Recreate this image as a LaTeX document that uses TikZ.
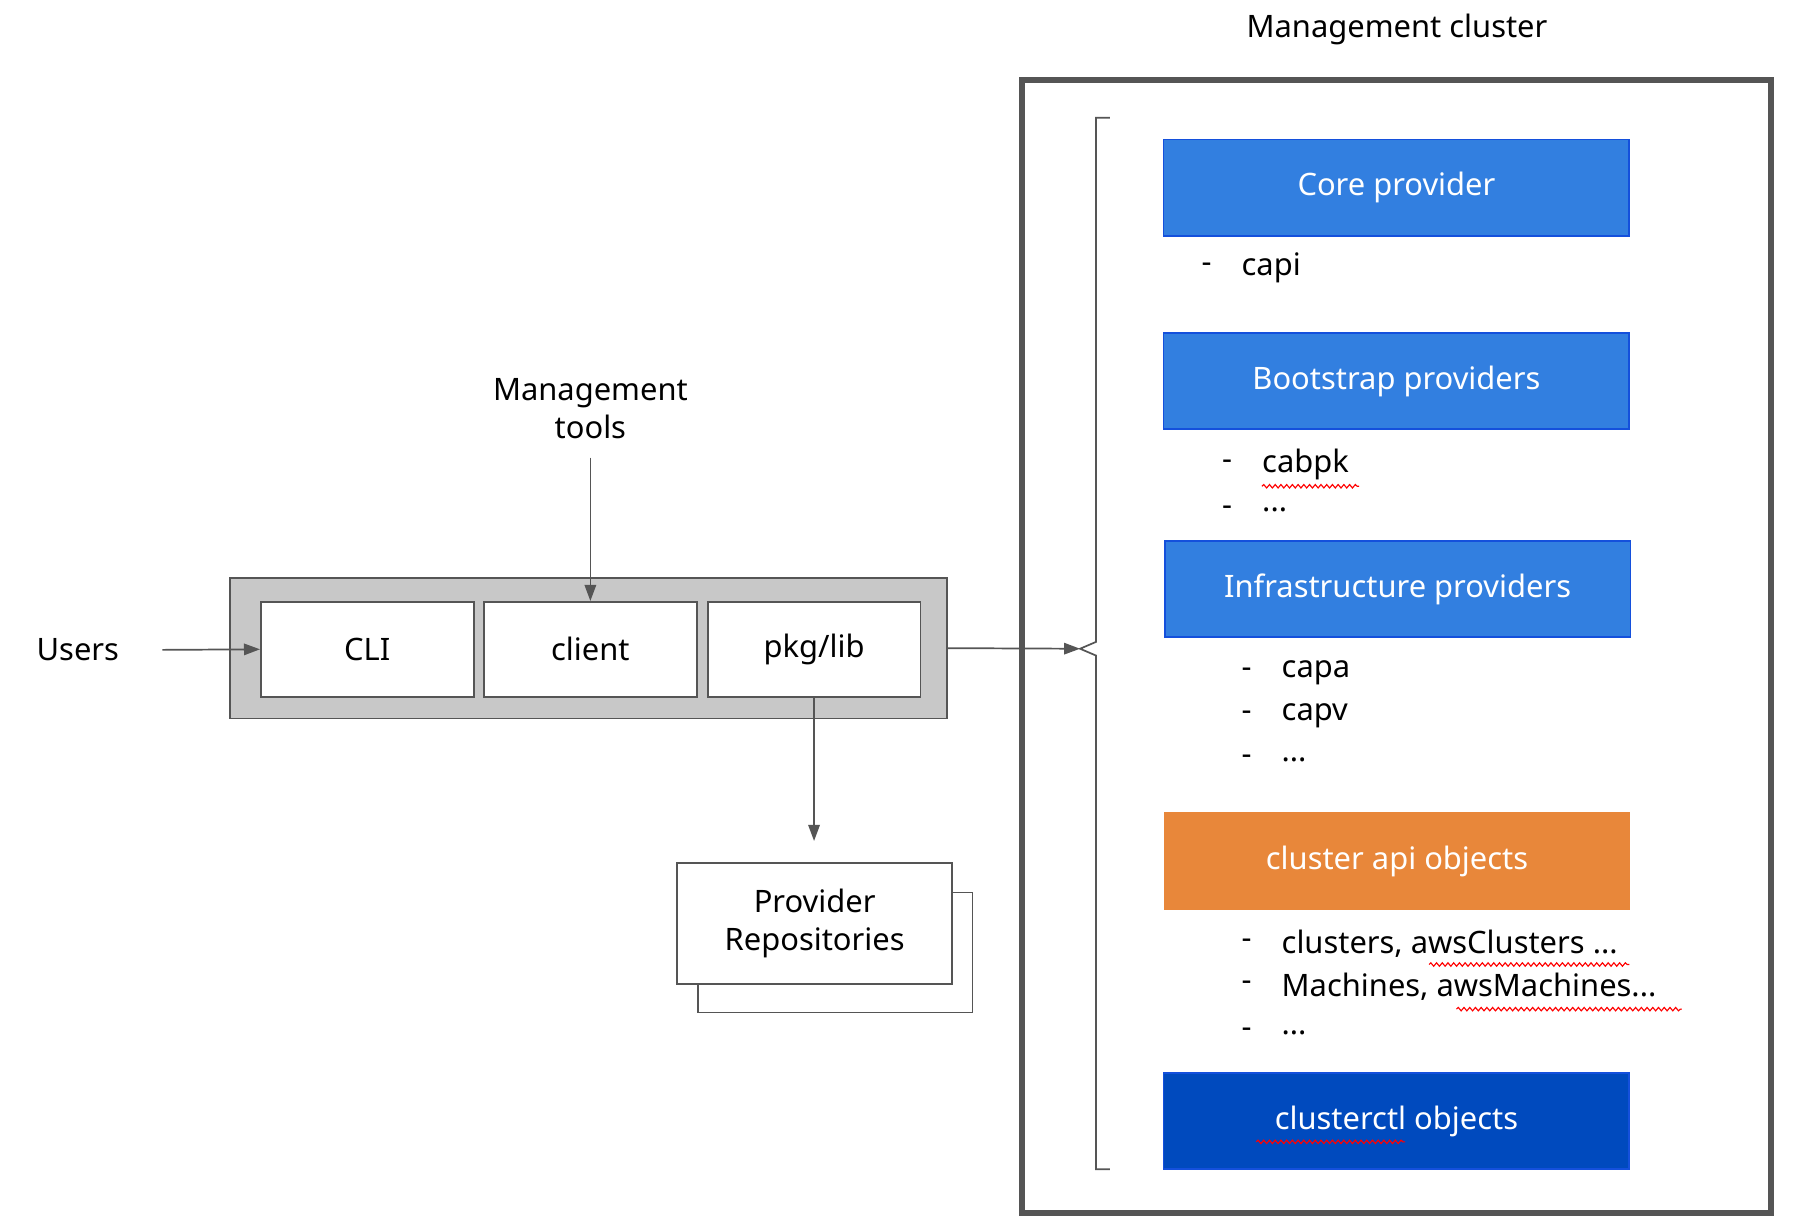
\documentclass[tikz,border=0pt]{standalone}
\usepackage{fontspec}
\setmainfont{Noto Sans}
\usetikzlibrary{arrows.meta,decorations.pathmorphing}
\definecolor{lblue}{RGB}{50,127,224}
\definecolor{bblue}{RGB}{20,80,220}
\definecolor{dblue}{RGB}{0,74,190}
\definecolor{orng}{RGB}{232,135,58}
\definecolor{dgray}{RGB}{85,85,85}
\definecolor{lgray}{RGB}{200,200,200}
\begin{document}
\begin{tikzpicture}[x=1pt,y=-1pt,
  every node/.style={font=\fontsize{27}{33}\selectfont},
  arr/.style={draw=dgray,line width=1.5pt,-{Triangle[length=14pt,width=10pt]}},
  prov/.style={draw=bblue,line width=1.5pt,text=white,minimum width=407pt,minimum height=84pt,inner sep=0pt},
  wbox/.style={draw=dgray,fill=white,line width=1.5pt,minimum width=186pt,minimum height=83pt,inner sep=0pt},
  item/.style={anchor=west,inner sep=0pt},
  squig/.style={draw=red,line width=1pt,decorate,decoration={snake,amplitude=1.5pt,segment length=5pt}}]
\useasboundingbox[fill=white] (0,0) rectangle (1568,1073);
\node (title) at (1221,26) {Management cluster};
\draw[dgray,line width=5pt] (893,70) rectangle (1548,1060);
% bracket
\coordinate (br) at (944,567);
\draw[dgray,line width=1.5pt] (970,103) -- (958,103) -- (958,561) -- (br) -- (958,573) -- (958,1022) -- (970,1022);
% providers
\node[prov,fill=lblue] (core) at (1220.5,164) {Core provider};
\node[item] at (1050,234) {-};\node[item] (capi) at (1085,234) {capi};
\node[prov,fill=lblue] (boot) at (1220.5,333) {Bootstrap providers};
\node[item] at (1068,406) {-};\node[item] (cabpk) at (1103,406) {cabpk};
\node[item] at (1068,446) {-};\node[item] at (1103,446) {...};
\node[prov,fill=lblue] (infra) at (1221.5,515) {Infrastructure providers};
\node[item] at (1085,588) {-};\node[item] at (1120,588) {capa};
\node[item] at (1085,626) {-};\node[item] at (1120,626) {capv};
\node[item] at (1085,664) {-};\node[item] at (1120,664) {...};
\node[prov,draw=none,fill=orng,minimum width=408pt,minimum height=86pt] (capiobj) at (1221,752.5) {cluster api objects};
\node[item] at (1085,825) {-};\node[item] at (1120,825) {clusters, awsClusters ...};
\node[item] at (1085,862) {-};\node[item] at (1120,862) {Machines, awsMachines...};
\node[item] at (1085,903) {-};\node[item] at (1120,903) {...};
\node[prov,fill=dblue] (cctl) at (1220.5,980) {clusterctl objects};
\draw[squig] (1103,425) -- (1188,425);
\draw[squig] (1249,843) -- (1424,843);
\draw[squig] (1273,882) -- (1470,882);
\draw[squig] (1098,998) -- (1228,998);
% tools
\node[draw=dgray,fill=lgray,line width=1.5pt,minimum width=627pt,minimum height=123pt,inner sep=0pt] (cont) at (514.5,566.5) {};
\node[wbox] (cli) at (321,567.5) {CLI};
\node[wbox] (client) at (516,567.5) {client};
\node[wbox] (pkg) at (711.5,567.5) {pkg/lib};
\node (users) at (68,568) {Users};
\coordinate (uend) at (142,568);
\draw[arr] (uend) -- (cli.west);
\node[align=center] (mt) at (516,357) {Management\\tools};
\coordinate (mtend) at (516,400);
\draw[arr] (mtend) -- (client.north);
\draw[arr] (cont.east) -- (br);
\coordinate (repend) at (711.5,735);
\draw[arr] (pkg.south) -- (repend);
\draw[dgray,line width=1.5pt,fill=white] (610,780) rectangle (850,885);
\node[draw=dgray,fill=white,line width=1.5pt,minimum width=240pt,minimum height=106pt,inner sep=0pt,align=center] (repo) at (712,807) {Provider\\Repositories};
\end{tikzpicture}
\end{document}
